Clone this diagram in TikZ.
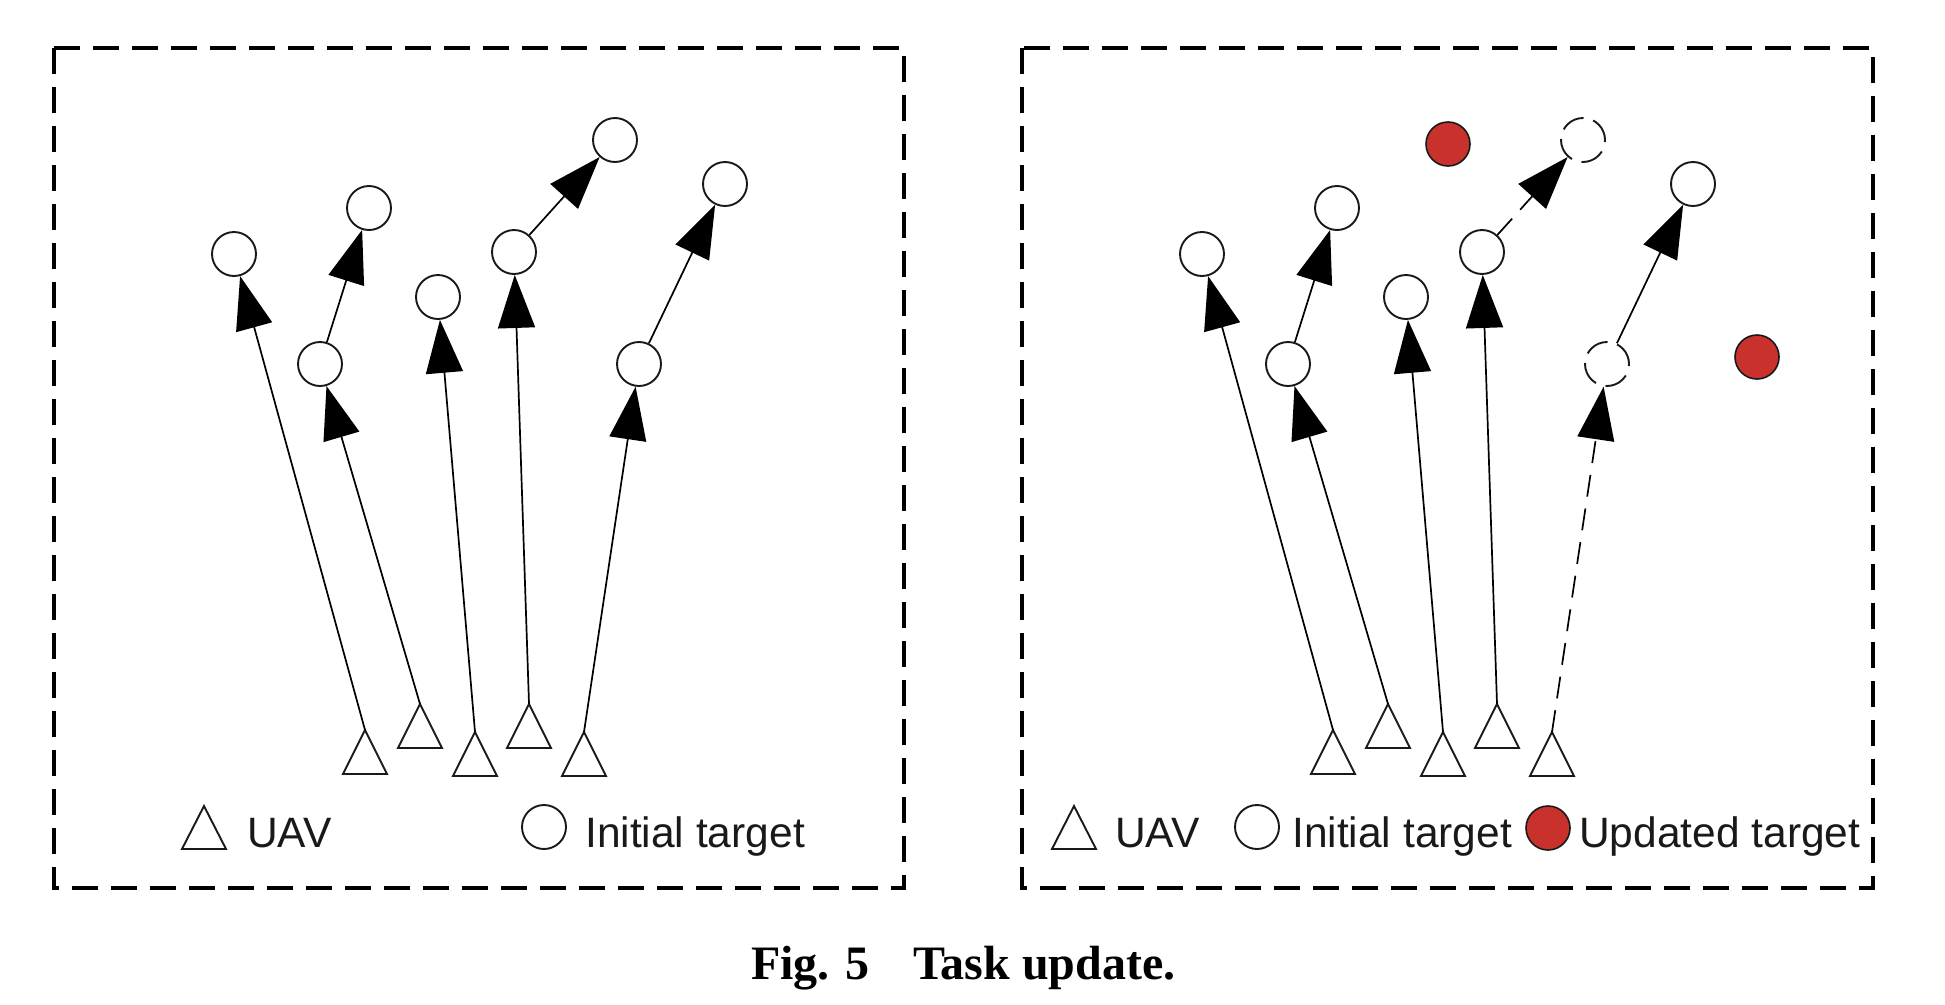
\documentclass[tikz,border=0pt]{standalone}
\usepackage{fontspec}
\setmainfont{Liberation Serif}
\setsansfont{Liberation Sans}
\usetikzlibrary{arrows.meta}
\definecolor{updred}{RGB}{201,49,44}
\definecolor{ink}{RGB}{25,25,25}
\tikzset{
  frame/.style={line width=3.2pt, dash pattern=on 26pt off 13pt},
  target/.style={circle, draw=ink, line width=1.9pt, fill=white, minimum size=44pt, inner sep=0pt},
  oldtarget/.style={target, dash pattern=on 24pt off 10pt},
  newtarget/.style={circle, draw=ink, line width=1.6pt, fill=updred, minimum size=44pt, inner sep=0pt},
  uavshape/.style={draw=ink, line width=1.9pt, line join=miter},
  path/.style={draw=black, line width=1.7pt, -{Triangle[length=53pt,width=37pt]}},
  dpath/.style={path, dash pattern=on 22pt off 12pt},
  legend/.style={anchor=base west, inner sep=0pt, text=ink, font=\sffamily\fontsize{42.5}{50}\selectfont},
  caption/.style={anchor=base west, inner sep=0pt, font=\bfseries\fontsize{48}{55}\selectfont}
}
\begin{document}
\begin{tikzpicture}[x=1pt, y=-1pt]
\useasboundingbox (0,0) rectangle (1945,1004);

% ---------------- left panel: initial assignment ----------------
\draw[frame] (54,48) rectangle (904,888);

% UAVs (apex coordinates)
\coordinate (uL1) at (365,730);
\coordinate (uL2) at (420,704);
\coordinate (uL3) at (475,732);
\coordinate (uL4) at (529,704);
\coordinate (uL5) at (584,732);
\foreach \u in {uL1,uL2,uL3,uL4,uL5}
  \draw[uavshape] (\u) -- ++(-22,44) -- ++(44,0) -- cycle;

% targets
\node[target] (aL) at (234,254) {};
\node[target] (bL) at (369,208) {};
\node[target] (cL) at (320,364) {};
\node[target] (dL) at (438,297) {};
\node[target] (eL) at (514,252) {};
\node[target] (fL) at (615,140) {};
\node[target] (gL) at (725,184) {};
\node[target] (hL) at (639,364) {};

% routes
\draw[path] (uL1) -- (aL);
\draw[path] (uL2) -- (cL);
\draw[path] (cL) -- (bL);
\draw[path] (uL3) -- (dL);
\draw[path] (uL4) -- (eL);
\draw[path] (eL) -- (fL);
\draw[path] (uL5) -- (hL);
\draw[path] (hL) -- (gL);

% legend
\coordinate (lgL1) at (204,806);
\draw[uavshape] (lgL1) -- ++(-22,43) -- ++(44,0) -- cycle;
\node[legend] (lgL1t) at (247,847) {UAV};
\node[target] (lgL2) at (544,827) {};
\node[legend] (lgL2t) at (585,847) {Initial target};

% ---------------- right panel: updated assignment ----------------
\draw[frame] (1022,48) rectangle (1873,888);

\coordinate (uR1) at (1333,730);
\coordinate (uR2) at (1388,704);
\coordinate (uR3) at (1443,732);
\coordinate (uR4) at (1497,704);
\coordinate (uR5) at (1552,732);
\foreach \u in {uR1,uR2,uR3,uR4,uR5}
  \draw[uavshape] (\u) -- ++(-22,44) -- ++(44,0) -- cycle;

\node[target] (aR) at (1202,254) {};
\node[target] (bR) at (1337,208) {};
\node[target] (cR) at (1288,364) {};
\node[target] (dR) at (1406,297) {};
\node[target] (eR) at (1482,252) {};
\node[oldtarget] (fR) at (1583,140) {};
\node[target] (gR) at (1693,184) {};
\node[oldtarget] (hR) at (1607,364) {};
\node[newtarget] (r1) at (1448,144) {};
\node[newtarget] (r2) at (1757,357) {};

\draw[path] (uR1) -- (aR);
\draw[path] (uR2) -- (cR);
\draw[path] (cR) -- (bR);
\draw[path] (uR3) -- (dR);
\draw[path] (uR4) -- (eR);
\draw[dpath] (eR) -- (fR);
\draw[dpath] (uR5) -- (hR);
\draw[path] (hR) -- (gR);

\coordinate (lgR1) at (1074,806);
\draw[uavshape] (lgR1) -- ++(-22,43) -- ++(44,0) -- cycle;
\node[legend] (lgR1t) at (1115,847) {UAV};
\node[target] (lgR2) at (1257,827) {};
\node[legend] (lgR2t) at (1292,847) {Initial target};
\node[newtarget] (lgR3) at (1548,828) {};
\node[legend] (lgR3t) at (1579,847) {Updated target};

% ---------------- caption ----------------
\node[caption] (capA) at (751,979) {Fig. 5};
\node[caption] (capB) at (913,979) {Task update.};
\end{tikzpicture}
\end{document}
